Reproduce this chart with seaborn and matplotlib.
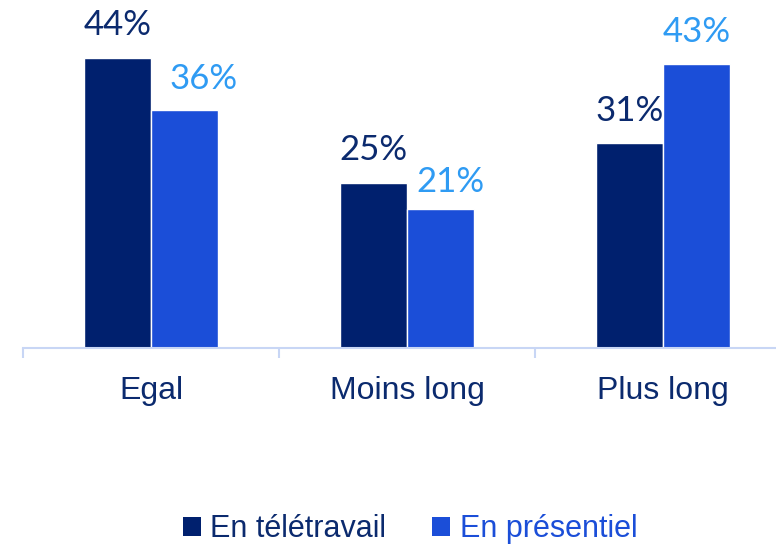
import matplotlib
matplotlib.use("Agg")
import matplotlib.pyplot as plt
import pandas as pd
import seaborn as sns
from matplotlib.patches import Patch

categories = ["Egal", "Moins long", "Plus long"]
series = ["En télétravail", "En présentiel"]
teletravail = [44, 25, 31]
presentiel = [36, 21, 43]

bar_colors = ["#00206E", "#1B4ED8"]
label_colors = ["#0B2A6E", "#2F9BF3"]
legend_text_colors = ["#0B2A6E", "#1B4ED8"]

df = pd.DataFrame({
    "cat": categories * 2,
    "serie": [series[0]] * 3 + [series[1]] * 3,
    "val": teletravail + presentiel,
})

sns.set_style("white")
plt.rcParams["font.family"] = ["Liberation Sans", "DejaVu Sans"]

fig = plt.figure(figsize=(7.76, 5.44), dpi=100)
ax = fig.add_axes([23 / 776, 196 / 544, 768 / 776, 330 / 544])

sns.barplot(data=df, x="cat", y="val", hue="serie", palette=bar_colors,
            width=0.52, saturation=1, legend=False, ax=ax)
ax.set_ylim(0, 50)
ax.set_xlim(-0.5, 2.5)

for i, cont in enumerate(ax.containers):
    anns = ax.bar_label(cont, labels=[f"{int(v)}%" for v in cont.datavalues], padding=12,
                        fontsize=25, color=label_colors[i], family="Lato")
    if i == 1:
        # the 36% and 21% labels sit a bit to the right in the original
        anns[0].xyann = (14, 11)
        anns[1].xyann = (7, 8)

for s in ["top", "right", "left"]:
    ax.spines[s].set_visible(False)
ax.spines["bottom"].set_color("#C8D6F5")
ax.spines["bottom"].set_linewidth(1.5)
ax.set_yticks([])
ax.set_xlabel("")
ax.set_ylabel("")
ax.tick_params(axis="x", which="major", bottom=False, length=0, pad=20,
               labelsize=23, labelcolor="#0B2A6E")
ax.set_xticks([-0.5, 0.5, 1.5, 2.5], minor=True)
ax.tick_params(axis="x", which="minor", bottom=True, length=7, width=1.5,
               color="#C8D6F5", direction="out")

handles = [Patch(facecolor=c, edgecolor="none") for c in bar_colors]
leg = fig.legend(handles, series, loc="center", bbox_to_anchor=(410 / 776, 1 - 529 / 544),
                 ncol=2, frameon=False, fontsize=22, handlelength=0.6,
                 handleheight=0.6, handletextpad=0.3, columnspacing=1.5)
for t, c in zip(leg.get_texts(), legend_text_colors):
    t.set_color(c)

fig.savefig("out.png", dpi=100)
